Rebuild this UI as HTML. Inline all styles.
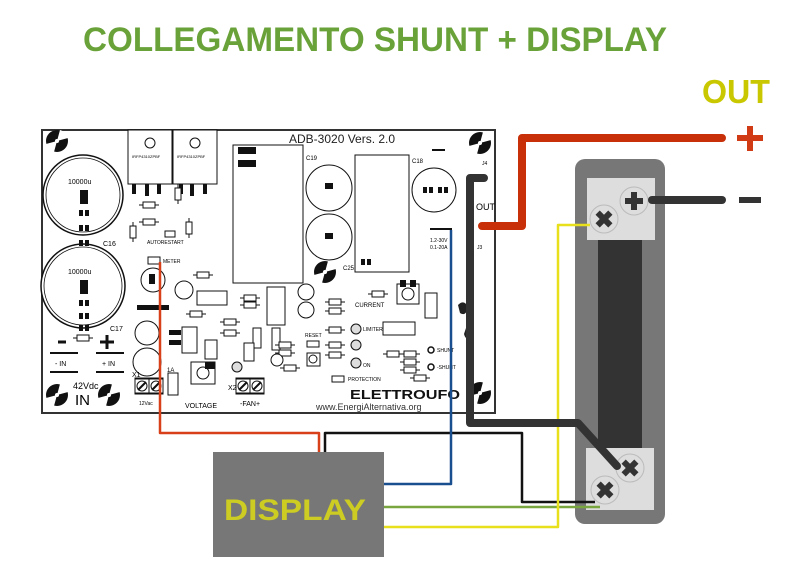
<!DOCTYPE html>
<html><head><meta charset="utf-8"><style>
html,body{margin:0;padding:0;background:#fff;}
svg{display:block;}
text{font-family:"Liberation Sans",sans-serif;}
</style></head><body>
<svg width="790" height="579" viewBox="0 0 790 579" xmlns="http://www.w3.org/2000/svg">
<defs>
<g id="hole"><circle r="11" fill="#111"/><path d="M0,0 L11,-3 A11,11 0 0 0 3,-11 Z M0,0 L-11,3 A11,11 0 0 0 -3,11 Z" fill="#fff"/><circle r="2" fill="#fff"/></g>
<g id="res"><line x1="-10" y1="0" x2="10" y2="0" stroke="#111" stroke-width="1"/><rect x="-6" y="-3" width="12" height="6" fill="#fff" stroke="#111" stroke-width="1"/></g>
<g id="smd"><rect x="-5" y="-3" width="4" height="6" fill="#111"/><rect x="1" y="-3" width="4" height="6" fill="#111"/></g>
<g id="screw"><circle r="14" fill="#ddd" stroke="#bbb"/><path d="M-9,-3 H-3 V-9 H3 V-3 H9 V3 H3 V9 H-3 V3 H-9 Z" fill="#333" transform="rotate(45)"/></g>
<g id="screw2"><circle r="14" fill="#ddd" stroke="#bbb"/><path d="M-9,-3 H-3 V-9 H3 V-3 H9 V3 H3 V9 H-3 V3 H-9 Z" fill="#333"/></g>
<g id="tscrew"><rect x="-7" y="-7" width="14" height="14" fill="#fff" stroke="#111"/><circle r="5" fill="#fff" stroke="#111"/><line x1="-4" y1="4" x2="4" y2="-4" stroke="#111" stroke-width="2"/></g>
</defs>

<text x="83" y="51" font-size="34" font-weight="bold" fill="#6aa23a" textLength="584" lengthAdjust="spacingAndGlyphs">COLLEGAMENTO SHUNT + DISPLAY</text>
<text x="702" y="103" font-size="33" font-weight="bold" fill="#c9c800" textLength="68" lengthAdjust="spacingAndGlyphs">OUT</text>
<path d="M737,138 H763 M750,126 V151" stroke="#d03a14" stroke-width="6"/>
<rect x="739" y="197" width="22" height="6" fill="#333"/>

<!-- PCB -->
<rect x="42" y="130" width="453" height="283" fill="#fff" stroke="#333" stroke-width="2"/>
<use href="#hole" x="57" y="141"/><use href="#hole" x="480" y="143"/><use href="#hole" x="57" y="395"/><use href="#hole" x="109" y="395"/><use href="#hole" x="480" y="393"/><use href="#hole" x="325" y="272"/>
<circle cx="83" cy="195" r="40" fill="#fff" stroke="#111" stroke-width="1.5"/><circle cx="83" cy="195" r="37" fill="none" stroke="#111" stroke-width="0.8"/>
<circle cx="83" cy="286" r="42" fill="#fff" stroke="#111" stroke-width="1.5"/><circle cx="83" cy="286" r="39" fill="none" stroke="#111" stroke-width="0.8"/>
<text x="68" y="184" font-size="7">10000u</text><text x="68" y="274" font-size="7">10000u</text>
<rect x="80" y="190" width="8" height="14" fill="#111"/><rect x="80" y="280" width="8" height="14" fill="#111"/>
<use href="#smd" x="84" y="213"/><use href="#smd" x="84" y="228"/><use href="#smd" x="84" y="243"/><use href="#smd" x="84" y="303"/><use href="#smd" x="84" y="316"/><use href="#smd" x="84" y="328"/>
<text x="103" y="246" font-size="7">C16</text><text x="110" y="331" font-size="7">C17</text>
<use href="#res" x="83" y="338"/>
<path d="M58,342 h8 M100,342 h14 M107,335 v14" stroke="#111" stroke-width="3"/>
<path d="M50,353 h28 M96,353 h28 M50,372 h28 M96,372 h28" stroke="#111" stroke-width="2"/>
<text x="55" y="366" font-size="7">- IN</text><text x="102" y="366" font-size="7">+ IN</text>
<text x="73" y="389" font-size="9">42Vdc</text><text x="75" y="405" font-size="15">IN</text>
<rect x="128" y="130" width="44" height="54" fill="#fff" stroke="#111"/><rect x="173" y="130" width="44" height="54" fill="#fff" stroke="#111"/>
<circle cx="150" cy="143" r="5" fill="#fff" stroke="#111"/><circle cx="195" cy="143" r="5" fill="#fff" stroke="#111"/>
<text x="132" y="158" font-size="4">IRFP4310ZPBF</text><text x="177" y="158" font-size="4">IRFP4310ZPBF</text>
<path d="M134,184 v10 M147,184 v12 M159,184 v10 M181,184 v10 M192,184 v12 M205,184 v10" stroke="#111" stroke-width="4"/>
<use href="#res" x="149" y="205"/><use href="#res" x="149" y="222"/><use href="#res" x="178" y="194" transform="rotate(90 178 194)"/>
<use href="#res" x="133" y="232" transform="rotate(90 133 232)"/><use href="#res" x="189" y="228" transform="rotate(90 189 228)"/>
<rect x="165" y="231" width="10" height="6" fill="#fff" stroke="#111"/>
<text x="147" y="244" font-size="5">AUTORESTART</text>
<rect x="148" y="257" width="12" height="7" fill="#fff" stroke="#111"/><text x="163" y="263" font-size="5">METER</text>
<circle cx="153" cy="280" r="12" fill="#fff" stroke="#111"/><rect x="149" y="274" width="6" height="10" fill="#111"/>
<circle cx="184" cy="290" r="9" fill="#fff" stroke="#111"/>
<rect x="137" y="305" width="32" height="5" fill="#111"/>
<circle cx="147" cy="333" r="12" fill="#fff" stroke="#111"/><circle cx="147" cy="362" r="14" fill="#fff" stroke="#111"/>
<rect x="197" y="291" width="30" height="14" fill="#fff" stroke="#111"/>
<rect x="182" y="327" width="15" height="26" fill="#fff" stroke="#111"/><rect x="205" y="340" width="12" height="19" fill="#fff" stroke="#111"/>
<rect x="169" y="330" width="12" height="5" fill="#111"/><rect x="169" y="340" width="12" height="5" fill="#111"/>
<use href="#res" x="203" y="275"/><use href="#res" x="230" y="322"/><use href="#res" x="230" y="333"/><use href="#res" x="250" y="298"/><use href="#res" x="250" y="305"/><use href="#res" x="196" y="314"/>
<rect x="253" y="328" width="8" height="20" fill="#fff" stroke="#111"/><rect x="244" y="343" width="10" height="18" fill="#fff" stroke="#111"/>
<rect x="267" y="287" width="18" height="38" fill="#fff" stroke="#111"/><circle cx="306" cy="292" r="8" fill="#fff" stroke="#111"/><circle cx="306" cy="310" r="8" fill="#fff" stroke="#111"/>
<circle cx="237" cy="367" r="5" fill="#ddd" stroke="#111"/>
<rect x="191" y="362" width="24" height="22" fill="#fff" stroke="#111"/><circle cx="203" cy="373" r="6" fill="#fff" stroke="#111"/><rect x="205" y="362" width="10" height="7" fill="#111"/>
<text x="185" y="408" font-size="7">VOLTAGE</text>
<rect x="135" y="378" width="28" height="16" fill="#fff" stroke="#111"/><use href="#tscrew" x="142" y="386"/><use href="#tscrew" x="156" y="386"/><text x="132" y="377" font-size="7">X1</text><text x="139" y="405" font-size="5">12Vac</text>
<rect x="168" y="373" width="10" height="22" fill="#fff" stroke="#111"/><text x="167" y="372" font-size="6">1A</text>
<rect x="236" y="378" width="28" height="16" fill="#fff" stroke="#111"/><use href="#tscrew" x="243" y="386"/><use href="#tscrew" x="257" y="386"/><text x="228" y="390" font-size="7">X2</text><text x="240" y="406" font-size="7">-FAN+</text>
<rect x="272" y="328" width="8" height="22" fill="#fff" stroke="#111"/><use href="#res" x="285" y="345"/><use href="#res" x="285" y="353"/><use href="#res" x="290" y="368"/>
<circle cx="277" cy="360" r="6" fill="#fff" stroke="#111"/>
<rect x="233" y="145" width="70" height="138" fill="#fff" stroke="#111"/>
<rect x="238" y="147" width="18" height="7" fill="#111"/><rect x="238" y="160" width="18" height="7" fill="#111"/>
<rect x="355" y="155" width="54" height="117" fill="#fff" stroke="#111"/>
<text x="289" y="143" font-size="12" font-family="Liberation Mono" fill="#222">ADB-3020 Vers. 2.0</text>
<text x="306" y="160" font-size="6">C19</text>
<circle cx="329" cy="188" r="23" fill="#fff" stroke="#111"/><circle cx="329" cy="237" r="23" fill="#fff" stroke="#111"/>
<rect x="325" y="183" width="8" height="6" fill="#111"/><rect x="325" y="233" width="8" height="6" fill="#111"/>
<text x="343" y="270" font-size="6">C25</text><use href="#smd" x="366" y="262"/>
<text x="412" y="163" font-size="6">C18</text><circle cx="434" cy="190" r="22" fill="#fff" stroke="#111"/><use href="#smd" x="428" y="190"/><use href="#smd" x="443" y="190"/>
<path d="M432,150 h13" stroke="#111" stroke-width="2"/>
<text x="482" y="165" font-size="5">J4</text><text x="476" y="210" font-size="9">OUT</text><text x="477" y="249" font-size="5">J3</text>
<path d="M430,229 h22" stroke="#111" stroke-width="2"/>
<text x="430" y="242" font-size="5">1.2-30V</text><text x="430" y="249" font-size="5">0.1-20A</text>
<rect x="397" y="284" width="22" height="20" fill="#fff" stroke="#111"/><circle cx="408" cy="294" r="6" fill="#fff" stroke="#111"/><rect x="400" y="280" width="6" height="7" fill="#111"/><rect x="410" y="280" width="6" height="7" fill="#111"/>
<text x="355" y="307" font-size="6">CURRENT</text>
<rect x="425" y="293" width="12" height="25" fill="#fff" stroke="#111"/>
<use href="#res" x="378" y="294"/><use href="#res" x="335" y="302"/><use href="#res" x="335" y="311"/><use href="#res" x="335" y="330"/><use href="#res" x="335" y="345"/><use href="#res" x="335" y="355"/>
<circle cx="356" cy="329" r="5" fill="#ddd" stroke="#111"/><circle cx="356" cy="345" r="5" fill="#ddd" stroke="#111"/><circle cx="356" cy="363" r="5" fill="#ddd" stroke="#111"/>
<text x="363" y="331" font-size="5">LIMITER</text><text x="363" y="367" font-size="5">ON</text>
<rect x="383" y="322" width="32" height="13" fill="#fff" stroke="#111"/>
<text x="305" y="337" font-size="5">RESET</text><rect x="307" y="341" width="12" height="6" fill="#fff" stroke="#111"/>
<rect x="307" y="353" width="13" height="13" fill="#fff" stroke="#111"/><circle cx="313" cy="359" r="4" fill="#fff" stroke="#111"/>
<rect x="332" y="376" width="12" height="6" fill="#fff" stroke="#111"/><text x="348" y="381" font-size="5">PROTECTION</text>
<use href="#res" x="393" y="354"/><use href="#res" x="410" y="354"/><use href="#res" x="410" y="362"/><use href="#res" x="410" y="370"/><use href="#res" x="420" y="378"/>
<circle cx="431" cy="350" r="3" fill="#fff" stroke="#111" stroke-width="1.5"/><circle cx="431" cy="367" r="3" fill="#fff" stroke="#111" stroke-width="1.5"/>
<text x="437" y="352" font-size="5">SHUNT</text><text x="437" y="369" font-size="5">-SHUNT</text>
<text x="350" y="399" font-size="13" font-weight="bold" fill="#111" textLength="110" lengthAdjust="spacingAndGlyphs">ELETTROUFO</text>
<text x="316" y="410" font-size="9" font-family="Liberation Mono" fill="#333">www.EnergiAlternativa.org</text>
<path d="M458,305 q6,-6 10,2 q-2,10 -8,6 z M466,328 q8,-4 6,8 q-6,6 -8,-2 z" fill="#222"/>

<rect x="575" y="159" width="90" height="365" rx="10" fill="#777"/>
<rect x="587" y="178" width="68" height="62" fill="#ddd"/>
<rect x="586" y="448" width="68" height="62" fill="#ddd"/>
<rect x="598" y="240" width="44" height="208" fill="#333"/>
<use href="#screw2" x="634" y="201"/><use href="#screw" x="604" y="219"/>
<use href="#screw" x="630" y="468"/><use href="#screw" x="605" y="490"/>

<rect x="213" y="452" width="171" height="105" fill="#777"/>
<text x="224" y="520" font-size="30" font-weight="bold" fill="#cccc22" textLength="142" lengthAdjust="spacingAndGlyphs">DISPLAY</text>

<g fill="none" stroke-linejoin="round">
<path d="M160,262 V433 H319 V452" stroke="#d8401a" stroke-width="2.5"/>
<path d="M325,452 V433 H522 V502 H595" stroke="#111" stroke-width="2.5"/>
<path d="M451,230 V484 H384" stroke="#1a4f8f" stroke-width="2.5"/>
<path d="M384,507 H600" stroke="#7aa640" stroke-width="2.5"/>
<path d="M384,527 H558 V225 H590" stroke="#e8e01a" stroke-width="2.5"/>
<path d="M482,226 H522 V138 H722" stroke="#c8300a" stroke-width="8" stroke-linecap="round"/>
<path d="M484,178 H470 V423 H578 L617,466" stroke="#333" stroke-width="8" stroke-linecap="round"/>
<path d="M652,200 H722" stroke="#333" stroke-width="8" stroke-linecap="round"/>
</g>
</svg>
</body></html>
